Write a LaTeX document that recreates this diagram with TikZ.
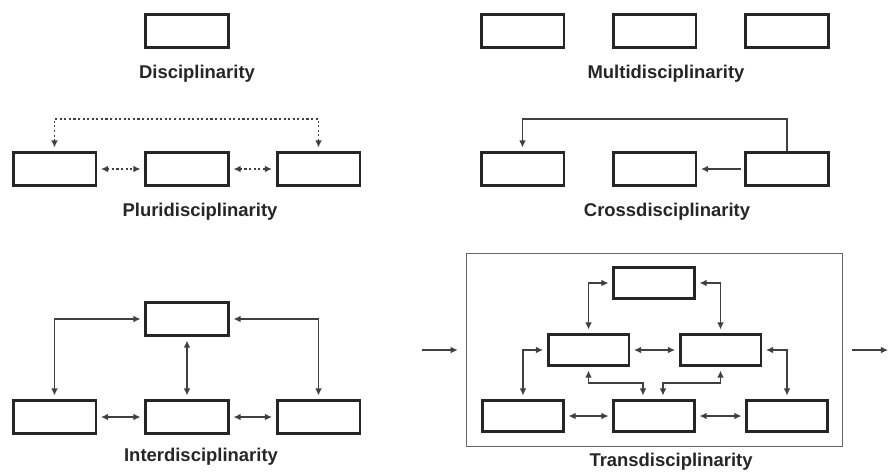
\documentclass[tikz,border=0pt]{standalone}
\usepackage{fontspec}
\setmainfont{Liberation Sans}
\usetikzlibrary{arrows.meta,calc,positioning}
\tikzset{discbox/.style={draw=black!85, line width=1.7pt, minimum width=1.66cm, minimum height=0.66cm, inner sep=0pt},
         tbox/.style={discbox, minimum width=1.62cm, minimum height=0.62cm},
         lab/.style={font=\bfseries\fontsize{10.5}{12}\selectfont, text=black!85},
         link/.style={draw=black!75, line width=0.75pt, shorten >=2pt, shorten <=2pt},
         dotlink/.style={link, line width=0.9pt, dash pattern=on 1.2pt off 1.4pt}}

\begin{document}
\begin{tikzpicture}[x=0.02cm,y=-0.02cm,>={Latex[length=4pt,width=3.8pt]}]
\useasboundingbox (0,0) rectangle (888,471);

% Disciplinarity
\node[discbox] (d1) at (187,31) {};
\node[lab] (dLab) at (197,74) {Disciplinarity};

% Multidisciplinarity
\node[discbox] (m1) at (522.5,31) {};
\node[discbox] (m2) at (654.5,31) {};
\node[discbox] (m3) at (787,31) {};
\node[lab] (mLab) at (666,74) {Multidisciplinarity};

\coordinate (pTop) at (0,119);

% Pluridisciplinarity
\node[discbox] (p1) at (54.5,169) {};
\node[discbox] (p2) at (187,169) {};
\node[discbox] (p3) at (318.5,169) {};
\node[lab] (pLab) at (200,212) {Pluridisciplinarity};

\draw[dotlink,<->] (p1.north) -- (p1.north |- pTop) -- (p3.north |- pTop) -- (p3.north);
\draw[dotlink,<->] (p1.east) -- (p2.west);
\draw[dotlink,<->] (p2.east) -- (p3.west);

% Crossdisciplinarity
\node[discbox] (c1) at (522.5,169) {};
\node[discbox] (c2) at (654.5,169) {};
\node[discbox] (c3) at (787,169) {};
\node[lab] (cLab) at (667,212) {Crossdisciplinarity};

\draw[link,->,shorten <=0pt] (c3.north) -- (c3.north |- pTop) -- (c1.north |- pTop) -- (c1.north);
\draw[link,->] (c3.west) -- (c2.east);

% Interdisciplinarity
\node[discbox] (i0) at (187,319) {};
\node[discbox] (i1) at (54.5,417) {};
\node[discbox] (i2) at (187,417) {};
\node[discbox] (i3) at (318.5,417) {};
\node[lab] (iLab) at (201,457) {Interdisciplinarity};

\draw[link,<->] (i0.west) -| (i1.north);
\draw[link,<->] (i0.east) -| (i3.north);
\draw[link,<->] (i0.south) -- (i2.north);
\draw[link,<->] (i1.east) -- (i2.west);
\draw[link,<->] (i2.east) -- (i3.west);

% Transdisciplinarity
\node[draw=black!60, line width=1pt, minimum width=7.52cm, minimum height=3.86cm] (tframe) at (654.5,350) {};
\node[tbox] (t0) at (654,283) {};
\node[tbox] (tl) at (588.5,350) {};
\node[tbox] (tr) at (720.5,350) {};
\node[tbox] (b1) at (523,416) {};
\node[tbox] (b2) at (654,416) {};
\node[tbox] (b3) at (787,416) {};
\node[lab] (tLab) at (671,462) {Transdisciplinarity};

\draw[link,<->] (t0.west) -| (tl.north);
\draw[link,<->] (t0.east) -| (tr.north);
\draw[link,<->] (tl.east) -- (tr.west);
\draw[link,<->] (tl.west) -| (b1.north);
\draw[link,<->] (tr.east) -| (b3.north);
\draw[link,<->] (tl.south) |- ($(b2.north)+(-11,-16)$) -- ($(b2.north)+(-11,0)$);
\draw[link,<->] (tr.south) |- ($(b2.north)+(9,-16)$) -- ($(b2.north)+(9,0)$);
\draw[link,<->] (b1.east) -- (b2.west);
\draw[link,<->] (b2.east) -- (b3.west);

\coordinate (inStart) at (418,350);
\coordinate (outEnd) at (888,350);
\draw[link,->,shorten >=4.5pt] (inStart) -- (tframe.west);
\draw[link,->,shorten <=5pt,shorten >=0pt] (tframe.east) -- (outEnd);

\end{tikzpicture}
\end{document}
